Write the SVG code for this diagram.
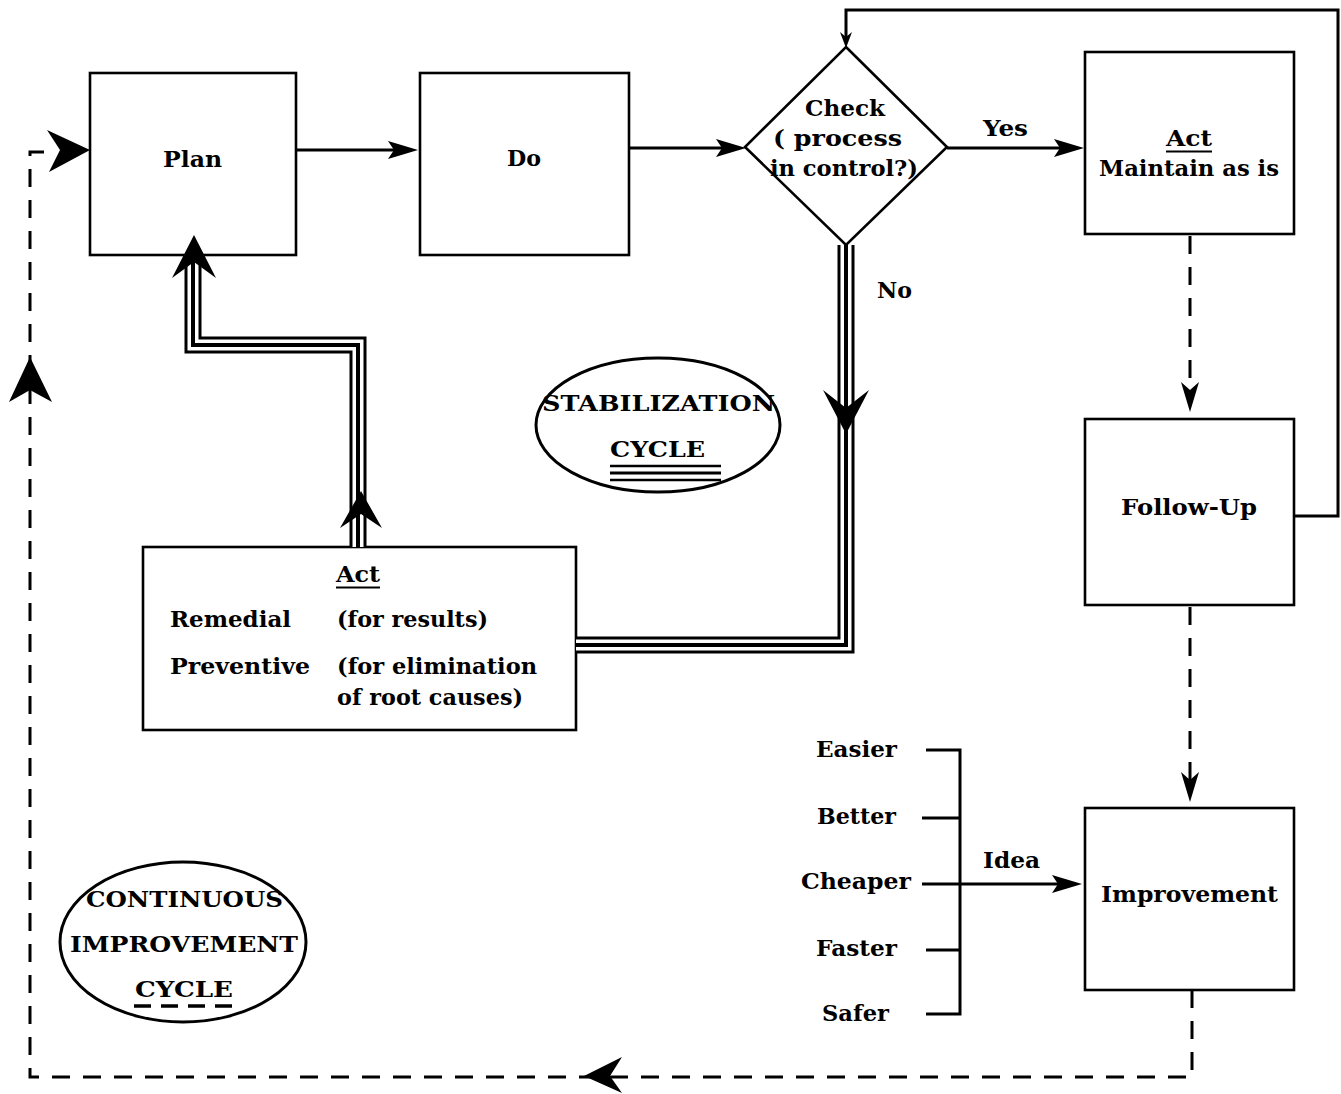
<svg xmlns="http://www.w3.org/2000/svg" width="1341" height="1094" viewBox="0 0 1341 1094">
  <style>
    .box { fill: #fff; stroke: #000; stroke-width: 2.6; }
    .lbl { font-family: "DejaVu Serif", "Liberation Serif", serif; font-weight: bold; font-size: 23px; fill: #000; }
    .line { fill: none; stroke: #000; stroke-width: 3; }
    .dash { fill: none; stroke: #000; stroke-width: 3; stroke-dasharray: 18 13; }
    .tri-outer { fill: none; stroke: #000; stroke-width: 17; stroke-linejoin: miter; }
    .tri-gap { fill: none; stroke: #fff; stroke-width: 11; stroke-linejoin: miter; }
    .tri-core { fill: none; stroke: #000; stroke-width: 4; stroke-linejoin: miter; }
    .head { fill: #000; stroke: none; }
  </style>

  <!-- plan -->
  <g id="plan">
    <rect class="box" x="90" y="73" width="206" height="182"/>
    <text class="lbl" x="163" y="167" textLength="59" lengthAdjust="spacingAndGlyphs">Plan</text>
  </g>

  <!-- do -->
  <g id="do">
    <rect class="box" x="420" y="73" width="209" height="182"/>
    <text class="lbl" x="507" y="166" textLength="34" lengthAdjust="spacingAndGlyphs">Do</text>
  </g>

  <!-- check decision -->
  <g id="check">
    <polygon class="box" points="846,47 947,147 846,245 745,147"/>
    <text class="lbl" x="805" y="116" textLength="80" lengthAdjust="spacingAndGlyphs">Check</text>
    <text class="lbl" x="773" y="146" textLength="129" lengthAdjust="spacingAndGlyphs">( process</text>
    <text class="lbl" x="770" y="176" textLength="148" lengthAdjust="spacingAndGlyphs">in control?)</text>
  </g>

  <!-- act: maintain -->
  <g id="act-maintain">
    <rect class="box" x="1085" y="52" width="209" height="182"/>
    <text class="lbl" x="1166" y="146" textLength="46" lengthAdjust="spacingAndGlyphs">Act</text>
    <line x1="1166" y1="151.5" x2="1212" y2="151.5" stroke="#000" stroke-width="2"/>
    <text class="lbl" x="1099" y="176" textLength="180" lengthAdjust="spacingAndGlyphs">Maintain as is</text>
  </g>

  <!-- follow-up -->
  <g id="follow-up">
    <rect class="box" x="1085" y="419" width="209" height="186"/>
    <text class="lbl" x="1121" y="515" textLength="136" lengthAdjust="spacingAndGlyphs">Follow-Up</text>
  </g>

  <!-- improvement -->
  <g id="improvement">
    <rect class="box" x="1085" y="808" width="209" height="182"/>
    <text class="lbl" x="1101" y="902" textLength="177" lengthAdjust="spacingAndGlyphs">Improvement</text>
  </g>

  <!-- act: remedial / preventive -->
  <g id="act-remedial">
    <rect class="box" x="143" y="547" width="433" height="183"/>
    <text class="lbl" x="336" y="582" textLength="44" lengthAdjust="spacingAndGlyphs">Act</text>
    <line x1="336" y1="587.5" x2="380" y2="587.5" stroke="#000" stroke-width="2"/>
    <text class="lbl" x="170" y="627" textLength="121" lengthAdjust="spacingAndGlyphs">Remedial</text>
    <text class="lbl" x="337" y="627" textLength="151" lengthAdjust="spacingAndGlyphs">(for results)</text>
    <text class="lbl" x="170" y="674" textLength="140" lengthAdjust="spacingAndGlyphs">Preventive</text>
    <text class="lbl" x="337" y="674" textLength="200" lengthAdjust="spacingAndGlyphs">(for elimination</text>
    <text class="lbl" x="337" y="705" textLength="186" lengthAdjust="spacingAndGlyphs">of root causes)</text>
  </g>

  <!-- improvement criteria -->
  <g id="criteria">
    <text class="lbl" x="816" y="757" textLength="81" lengthAdjust="spacingAndGlyphs">Easier</text>
    <text class="lbl" x="817" y="824" textLength="79" lengthAdjust="spacingAndGlyphs">Better</text>
    <text class="lbl" x="801" y="889" textLength="110" lengthAdjust="spacingAndGlyphs">Cheaper</text>
    <text class="lbl" x="816" y="956" textLength="81" lengthAdjust="spacingAndGlyphs">Faster</text>
    <text class="lbl" x="822" y="1021" textLength="67" lengthAdjust="spacingAndGlyphs">Safer</text>
  </g>

  <!-- stabilization cycle badge -->
  <g id="stabilization-cycle">
    <ellipse cx="658" cy="425" rx="122" ry="67" fill="none" stroke="#000" stroke-width="3"/>
    <text class="lbl" x="542" y="411" textLength="233" lengthAdjust="spacingAndGlyphs">STABILIZATION</text>
    <text class="lbl" x="610" y="457" textLength="95" lengthAdjust="spacingAndGlyphs">CYCLE</text>
    <line x1="610" y1="466" x2="721" y2="466" stroke="#000" stroke-width="2.5"/>
    <line x1="610" y1="473" x2="721" y2="473" stroke="#000" stroke-width="3"/>
    <line x1="610" y1="480" x2="721" y2="480" stroke="#000" stroke-width="2.5"/>
  </g>

  <!-- continuous improvement cycle badge -->
  <g id="continuous-improvement-cycle">
    <ellipse cx="183" cy="942" rx="123" ry="80" fill="none" stroke="#000" stroke-width="3"/>
    <text class="lbl" x="86" y="907" textLength="197" lengthAdjust="spacingAndGlyphs">CONTINUOUS</text>
    <text class="lbl" x="70" y="952" textLength="228" lengthAdjust="spacingAndGlyphs">IMPROVEMENT</text>
    <text class="lbl" x="135" y="997" textLength="98" lengthAdjust="spacingAndGlyphs">CYCLE</text>
    <line x1="134" y1="1006" x2="234" y2="1006" stroke="#000" stroke-width="3.5" stroke-dasharray="17 10"/>
  </g>

  <!-- connectors, drawn last so arrowheads sit over box edges -->
  <g id="connectors">
    <!-- solid flow along the top row -->
    <line class="line" x1="296" y1="150" x2="400" y2="150"/>
    <polygon class="head" points="418,150 388,141 394,150 388,159"/>
    <line class="line" x1="629" y1="148" x2="728" y2="148"/>
    <polygon class="head" points="746,148 716,139 722,148 716,157"/>
    <line class="line" x1="947" y1="148" x2="1066" y2="148"/>
    <polygon class="head" points="1084,148 1054,139 1060,148 1054,157"/>

    <!-- follow-up loop back to check -->
    <polyline class="line" points="1294,516 1338,516 1338,10 846,10 846,40"/>
    <polygon class="head" points="846,48 840,32 846,37 852,32"/>

    <!-- triple line: check (No) down to remedial act -->
    <polyline class="tri-outer" points="846,245 846,645 576,645"/>
    <polyline class="tri-gap" points="846,245 846,645 576,645"/>
    <polyline class="tri-core" points="846,245 846,645 576,645"/>
    <polygon class="head" points="846,434 823,390 846,408 869,390"/>

    <!-- triple line: remedial act up to plan -->
    <polyline class="tri-outer" points="358,547 358,345 193,345 193,255"/>
    <polyline class="tri-gap" points="358,547 358,345 193,345 193,255"/>
    <polyline class="tri-core" points="358,547 358,345 193,345 193,255"/>
    <polygon class="head" points="361,491 340,528 361,514 382,528"/>
    <polygon class="head" points="194,235 172,278 194,262 216,278"/>

    <!-- dashed standardisation path on the right -->
    <line class="dash" x1="1190" y1="236" x2="1190" y2="400"/>
    <polygon class="head" points="1190,412 1181,382 1190,390 1199,382"/>
    <line class="dash" x1="1190" y1="607" x2="1190" y2="790"/>
    <polygon class="head" points="1190,802 1181,772 1190,780 1199,772"/>

    <!-- dashed continuous-improvement loop -->
    <polyline class="dash" points="1192,990 1192,1077 30,1077 30,152 50,152"/>
    <polygon class="head" points="90,150 47,130 60,150 49,172"/>
    <polygon class="head" points="30,357 9,402 30,390 52,402"/>
    <polygon class="head" points="584,1076 622,1057 610,1076 622,1093"/>

    <!-- idea bracket -->
    <polyline class="line" points="926,750 960,750 960,1014 926,1014"/>
    <line class="line" x1="922" y1="818" x2="960" y2="818"/>
    <line class="line" x1="926" y1="950" x2="960" y2="950"/>
    <line class="line" x1="922" y1="884" x2="1064" y2="884"/>
    <polygon class="head" points="1082,884 1052,875 1058,884 1052,893"/>
    <text class="lbl" x="983" y="868" textLength="57" lengthAdjust="spacingAndGlyphs">Idea</text>

    <text class="lbl" x="983" y="136" textLength="45" lengthAdjust="spacingAndGlyphs">Yes</text>
    <text class="lbl" x="877" y="298" textLength="35" lengthAdjust="spacingAndGlyphs">No</text>
  </g>
</svg>
